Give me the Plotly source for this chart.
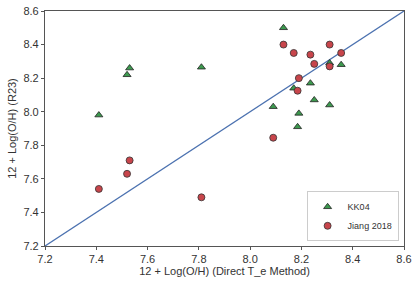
import plotly.graph_objects as go

direct_te = [7.41, 7.52, 7.53, 7.81, 8.09, 8.13, 8.17, 8.185, 8.19, 8.235, 8.25, 8.31, 8.31, 8.355]
kk04 = [7.98, 8.22, 8.26, 8.265, 8.03, 8.50, 8.14, 7.91, 7.99, 8.17, 8.07, 8.29, 8.04, 8.28]
jiang2018 = [7.54, 7.63, 7.71, 7.49, 7.845, 8.40, 8.35, 8.125, 8.20, 8.34, 8.285, 8.40, 8.27, 8.35]
one_to_one = [7.2, 8.6]
ticks = [7.2, 7.4, 7.6, 7.8, 8.0, 8.2, 8.4, 8.6]

fig = go.Figure()
fig.add_trace(go.Scatter(x=one_to_one, y=one_to_one, mode="lines",
                         line=dict(color="#4c72b0", width=1.3), showlegend=False, hoverinfo="skip"))
fig.add_trace(go.Scatter(x=direct_te, y=kk04, mode="markers", name="KK04",
                         marker=dict(symbol="triangle-up", size=7, color="#3d9a4f",
                                     line=dict(color="#222222", width=0.8))))
fig.add_trace(go.Scatter(x=direct_te, y=jiang2018, mode="markers", name="Jiang 2018",
                         marker=dict(symbol="circle", size=7, color="#c8454b",
                                     line=dict(color="#333333", width=0.8))))

axis_common = dict(range=[7.2, 8.6], tickvals=ticks, ticktext=[f"{t:.1f}" for t in ticks],
                   showgrid=False, zeroline=False, showline=True, linecolor="#555555",
                   linewidth=1.2, mirror=True, ticks="outside", ticklen=3, tickcolor="#555555",
                   automargin=False,
                   tickfont=dict(size=11, color="#333333", family="Liberation Sans"))

fig.update_layout(
    width=415, height=286,
    margin=dict(l=45, r=11, t=11, b=40),
    paper_bgcolor="white", plot_bgcolor="white",
    font=dict(family="Liberation Sans", size=11, color="#333333"),
    xaxis=dict(**axis_common, title=dict(text="12 + Log(O/H) (Direct T_e Method)",
                                         font=dict(size=11), standoff=2)),
    yaxis=dict(**axis_common, title=dict(text="12 + Log(O/H) (R23)", font=dict(size=11), standoff=4)),
    legend=dict(x=0.985, y=0.02, xanchor="right", yanchor="bottom",
                bgcolor="white", bordercolor="#cccccc", borderwidth=1,
                font=dict(size=9, color="#333333"), itemwidth=30, tracegroupgap=0),
)

fig.write_html("out.html", config={"displayModeBar": False},
               post_script="document.body.style.margin='0';")
